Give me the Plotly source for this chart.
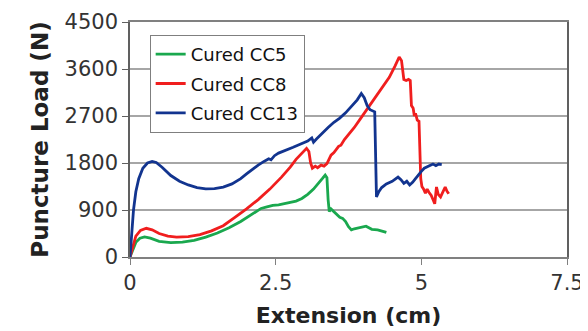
import plotly.graph_objects as go

# ---- data ----
cc5_x = [0, 0.05, 0.1, 0.17, 0.25, 0.35, 0.5, 0.7, 0.9, 1.1, 1.3, 1.5, 1.7, 1.9, 2.1, 2.25, 2.35, 2.45,
         2.55, 2.65, 2.75, 2.85, 2.95, 3.05, 3.15, 3.25, 3.3, 3.35, 3.38, 3.40, 3.42, 3.45, 3.5, 3.55,
         3.6, 3.65, 3.7, 3.75, 3.8, 3.85, 3.9, 4.0, 4.05, 4.1, 4.15, 4.25, 4.35, 4.4]
cc5_y = [0, 150, 280, 360, 385, 360, 300, 275, 285, 320, 380, 460, 560, 680, 820, 930, 960, 990,
         1000, 1020, 1050, 1070, 1120, 1200, 1300, 1420, 1500, 1570, 1520, 1100, 870, 920, 860, 820,
         760, 740, 680, 580, 520, 540, 550, 570, 590, 560, 530, 520, 490, 470]

cc8_x = [0, 0.05, 0.1, 0.18, 0.28, 0.38, 0.5, 0.65, 0.8, 1.0, 1.2, 1.4, 1.6, 1.8, 2.0, 2.2, 2.4, 2.6,
         2.75, 2.85, 2.95, 3.03, 3.07, 3.1, 3.13, 3.18, 3.22, 3.28, 3.33, 3.38, 3.45, 3.5, 3.58, 3.62,
         3.68, 3.72, 3.78, 3.85, 3.95, 4.05, 4.15, 4.25, 4.35, 4.45, 4.55, 4.62, 4.66, 4.70, 4.74,
         4.78, 4.81, 4.83, 4.86, 4.88, 4.9, 4.93, 4.96, 4.99, 5.01, 5.04, 5.07, 5.1, 5.13, 5.17, 5.2,
         5.23, 5.26, 5.29, 5.33, 5.37, 5.41, 5.44, 5.47]
cc8_y = [0, 220, 400, 510, 550, 520, 450, 400, 380, 390, 430, 500, 600, 760, 920, 1100, 1300, 1530,
         1720, 1870, 1990, 2080, 2020, 1800, 1700, 1740, 1710, 1760, 1740, 1790, 1950, 2000, 2120, 2140,
         2250, 2300, 2380, 2480, 2640, 2800, 2960, 3110, 3260, 3440, 3660, 3830, 3760, 3400, 3380,
         3400, 3380, 2900, 2850, 2700, 2750, 2620, 2600, 1500, 1350, 1300, 1220, 1300, 1240, 1180, 1100,
         1020, 1340, 1200, 1150, 1250, 1340, 1260, 1210]

cc13_x = [0, 0.03, 0.06, 0.1, 0.15, 0.22, 0.3, 0.38, 0.45, 0.55, 0.7, 0.85, 1.0, 1.15, 1.3, 1.45, 1.6,
          1.75, 1.9, 2.0, 2.1, 2.2, 2.3, 2.38, 2.42, 2.48, 2.55, 2.6, 2.7, 2.8, 2.88, 2.95, 3.05, 3.12,
          3.15, 3.2, 3.3, 3.4, 3.5, 3.6, 3.7, 3.8, 3.9, 3.97, 4.02, 4.07, 4.12, 4.2, 4.22, 4.23, 4.27,
          4.32, 4.4, 4.5, 4.6, 4.65, 4.7, 4.75, 4.8, 4.85, 4.9, 4.95, 5.0, 5.05, 5.1, 5.15, 5.2, 5.25,
          5.3, 5.35]
cc13_y = [0, 500, 900, 1250, 1500, 1700, 1800, 1830, 1810, 1720, 1560, 1450, 1380, 1330, 1305, 1310, 1340,
          1400, 1500, 1590, 1680, 1760, 1830, 1880, 1860, 1940, 1990, 2010, 2060, 2100, 2140, 2170, 2220, 2280,
          2200, 2260, 2380, 2480, 2580, 2660, 2760, 2880, 3010, 3130, 3050, 2900, 2820, 2780, 1900, 1150, 1250,
          1330, 1400, 1450, 1530, 1480, 1410, 1450, 1380, 1430, 1500, 1580, 1640, 1700, 1730, 1760, 1780, 1750,
          1780, 1770]

series_names = ["Cured CC5", "Cured CC8", "Cured CC13"]
series_colors = ["#1aa84e", "#f01e1e", "#12348f"]

x_tickvals = [0, 2.5, 5, 7.5]
x_ticktext = ["0", "2.5", "5", "7.5"]
y_tickvals = [0, 900, 1800, 2700, 3600, 4500]

fig = go.Figure()
for name, xs, ys, col in zip(series_names, [cc5_x, cc8_x, cc13_x], [cc5_y, cc8_y, cc13_y], series_colors):
    fig.add_trace(go.Scatter(x=xs, y=ys, mode="lines", name=name, legendgroup=name,
                             line=dict(color=col, width=2.8)))

# page body has an 8px default margin, so the figure is sized/offset to compensate
fig.update_layout(
    width=580, height=323,
    margin=dict(l=122, r=21, t=14, b=74),
    paper_bgcolor="white", plot_bgcolor="white",
    font=dict(family="DejaVu Sans", color="#222222"),
    showlegend=True,
    legend=dict(x=0.045, y=0.945, xanchor="left", yanchor="top",
                bgcolor="white", bordercolor="#7f7f7f", borderwidth=1,
                font=dict(family="DejaVu Sans", size=18, color="#111111"),
                tracegroupgap=3, entrywidth=128, entrywidthmode="pixels"),
    xaxis=dict(range=[0, 7.5], tickvals=x_tickvals, ticktext=x_ticktext,
               showgrid=False, zeroline=False, automargin=False,
               showline=True, linecolor="#808080", linewidth=1.5, mirror=True,
               ticks="outside", ticklen=6, tickcolor="#808080",
               tickfont=dict(family="DejaVu Sans", size=21, color="#333333"),
               title=dict(text="Extension (cm)", standoff=14,
                          font=dict(family="DejaVu Sans", size=22, color="#222222", weight="bold"))),
    yaxis=dict(range=[0, 4500], tickvals=y_tickvals,
               showgrid=True, gridcolor="#a6a6a6", gridwidth=1.5, zeroline=False, automargin=False,
               showline=True, linecolor="#606060", linewidth=1.5, mirror=True,
               ticks="outside", ticklen=6, tickcolor="#606060",
               tickfont=dict(family="DejaVu Sans", size=21, color="#333333"),
               title=dict(text="Puncture Load (N)", standoff=10,
                          font=dict(family="DejaVu Sans", size=23, color="#222222", weight="bold"))),
)

fig.write_html("out.html")
